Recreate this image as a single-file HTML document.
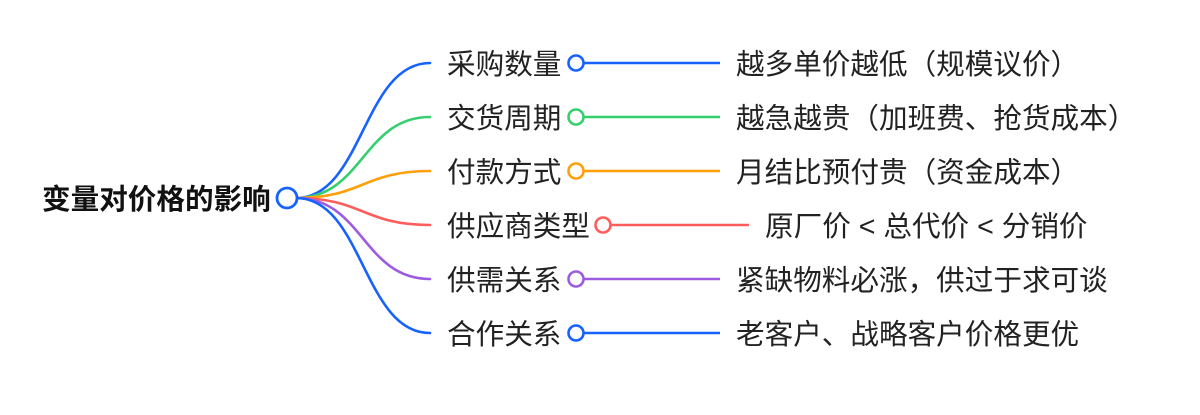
<!DOCTYPE html>
<html>
<head>
<meta charset="utf-8">
<style>
  html, body { margin: 0; padding: 0; background: #ffffff; }
  body { width: 1200px; height: 415px; overflow: hidden; }
  svg { display: block; }
  text { font-family: "Liberation Sans", "Noto Sans CJK SC", sans-serif; font-size: 28.6px; fill: #222; }
  .root { font-weight: bold; fill: #111; }
</style>
</head>
<body>
<svg width="1200" height="415" viewBox="0 0 1200 415" xmlns="http://www.w3.org/2000/svg">
  <!-- curves -->
  <g fill="none" stroke-width="2.6" stroke-linecap="round">
    <path d="M296 198 C 363 198, 363 63, 430 63" stroke="#1662ff"/>
    <path d="M296 198 C 363 198, 363 117, 430 117" stroke="#36cf6e"/>
    <path d="M296 198 C 363 198, 363 171, 430 171" stroke="#ff9f0a"/>
    <path d="M296 198 C 363 198, 363 225, 430 225" stroke="#ff5c5c"/>
    <path d="M296 198 C 363 198, 363 279, 430 279" stroke="#9d5ce0"/>
    <path d="M296 198 C 363 198, 363 333, 430 333" stroke="#1662ff"/>
  </g>

  <!-- root -->
  <text class="root" x="42" y="200" dominant-baseline="central">变量对价格的影响</text>
  <circle cx="287" cy="198" r="10" fill="#fff" stroke="#1662ff" stroke-width="2.8"/>

  <!-- branch labels -->
  <text x="447" y="65" dominant-baseline="central">采购数量</text>
  <text x="447" y="119" dominant-baseline="central">交货周期</text>
  <text x="447" y="173" dominant-baseline="central">付款方式</text>
  <text x="447" y="227" dominant-baseline="central">供应商类型</text>
  <text x="447" y="281" dominant-baseline="central">供需关系</text>
  <text x="447" y="335" dominant-baseline="central">合作关系</text>

  <!-- connector lines -->
  <g stroke-width="2.6" fill="none">
    <line x1="584" y1="63" x2="720" y2="63" stroke="#1662ff"/>
    <line x1="584" y1="117" x2="720" y2="117" stroke="#36cf6e"/>
    <line x1="584" y1="171" x2="720" y2="171" stroke="#ff9f0a"/>
    <line x1="611" y1="225" x2="749" y2="225" stroke="#ff5c5c"/>
    <line x1="584" y1="279" x2="720" y2="279" stroke="#9d5ce0"/>
    <line x1="584" y1="333" x2="720" y2="333" stroke="#1662ff"/>
  </g>

  <!-- branch circles -->
  <g fill="#fff" stroke-width="2.6">
    <circle cx="576" cy="63" r="7.5" stroke="#1662ff"/>
    <circle cx="576" cy="117" r="7.5" stroke="#36cf6e"/>
    <circle cx="576" cy="171" r="7.5" stroke="#ff9f0a"/>
    <circle cx="603" cy="225" r="7.5" stroke="#ff5c5c"/>
    <circle cx="576" cy="279" r="7.5" stroke="#9d5ce0"/>
    <circle cx="576" cy="333" r="7.5" stroke="#1662ff"/>
  </g>

  <!-- leaf labels -->
  <text x="736" y="65" dominant-baseline="central">越多单价越低（规模议价）</text>
  <text x="736" y="119" dominant-baseline="central">越急越贵（加班费、抢货成本）</text>
  <text x="736" y="173" dominant-baseline="central">月结比预付贵（资金成本）</text>
  <text x="765" y="227" dominant-baseline="central" xml:space="preserve">原厂价 &lt; 总代价 &lt; 分销价</text>
  <text x="736" y="281" dominant-baseline="central">紧缺物料必涨，供过于求可谈</text>
  <text x="736" y="335" dominant-baseline="central">老客户、战略客户价格更优</text>
</svg>
</body>
</html>
